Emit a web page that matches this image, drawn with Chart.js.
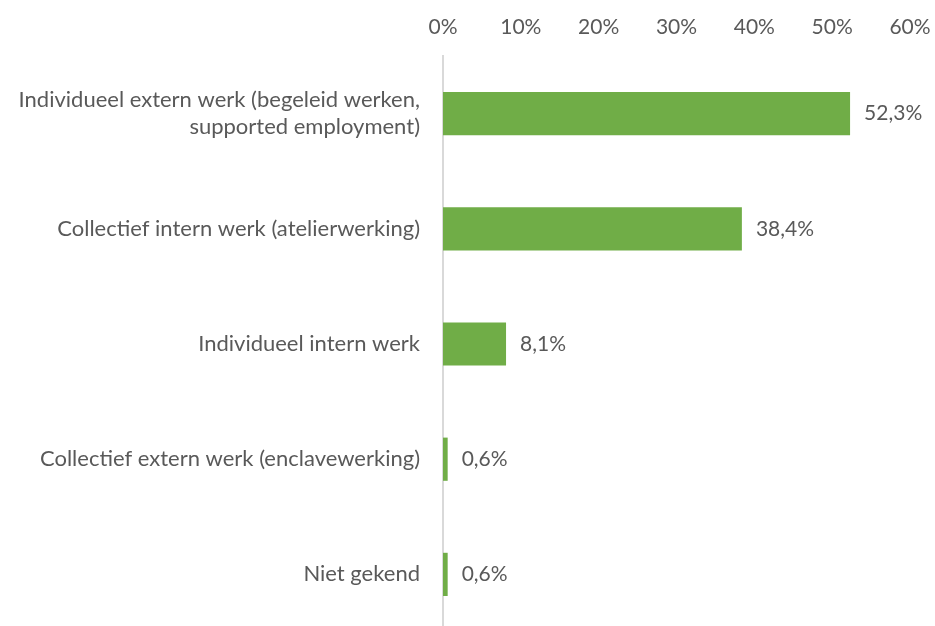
<!DOCTYPE html>
<html>
<head>
<meta charset="utf-8">
<script src="https://cdn.jsdelivr.net/npm/chart.js@4"></script>
<style>
  html, body { margin: 0; padding: 0; background: #fff; overflow: hidden; }
  canvas { display: block; }
</style>
</head>
<body>
<canvas id="chart" width="935" height="636"></canvas>
<script>
// categories and values (percent)
const categories = [
  ['Individueel extern werk (begeleid werken,', 'supported employment)'],
  'Collectief intern werk (atelierwerking)',
  'Individueel intern werk',
  'Collectief extern werk (enclavewerking)',
  'Niet gekend'
];
const values = [52.3, 38.4, 8.1, 0.6, 0.6];
const xTicks = [0, 10, 20, 30, 40, 50, 60];

const FONT = "Lato, 'Open Sans', sans-serif";
const TEXT = '#595959';
const SIZE = 21;

// draws the value next to each bar
const barLabels = {
  id: 'barLabels',
  afterDatasetsDraw(chart) {
    const ctx = chart.ctx;
    const meta = chart.getDatasetMeta(0);
    ctx.save();
    ctx.font = SIZE + 'px ' + FONT;
    ctx.fillStyle = TEXT;
    ctx.textAlign = 'left';
    ctx.textBaseline = 'middle';
    meta.data.forEach((bar, i) => {
      const txt = values[i].toFixed(1).replace('.', ',') + '%';
      ctx.fillText(txt, bar.x + 14, bar.y);
    });
    ctx.restore();
  }
};

new Chart(document.getElementById('chart'), {
  type: 'bar',
  data: {
    labels: categories,
    datasets: [{
      data: values,
      backgroundColor: '#70AD47',
      barPercentage: 0.375,
      categoryPercentage: 1
    }]
  },
  options: {
    indexAxis: 'y',
    responsive: false,
    animation: false,
    layout: { padding: { top: 0, right: 0, bottom: 4, left: 0 } },
    plugins: {
      legend: { display: false },
      tooltip: { enabled: false }
    },
    scales: {
      x: {
        position: 'top',
        min: 0,
        max: 60,
        afterBuildTicks: (axis) => { axis.ticks = xTicks.map(v => ({ value: v })); },
        afterFit: (axis) => {
          axis.height = 56;
          axis.paddingLeft = 0;
          axis.paddingRight = 25;
        },
        grid: { display: false },
        border: { display: false },
        ticks: {
          padding: 8,
          color: TEXT,
          font: { family: FONT, size: SIZE },
          callback: (v) => v + '%'
        }
      },
      y: {
        afterFit: (axis) => {
          axis.width = 443;
          axis.paddingTop = 0;
          axis.paddingBottom = 0;
        },
        grid: { display: false },
        border: { display: true, color: '#D9D9D9', width: 2 },
        ticks: {
          padding: 15,
          color: TEXT,
          font: { family: FONT, size: 22, lineHeight: 1.2 }
        }
      }
    }
  },
  plugins: [barLabels]
});
</script>
</body>
</html>
